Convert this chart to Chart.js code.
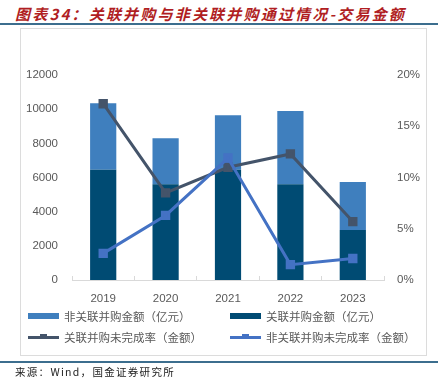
<!DOCTYPE html>
<html>
<head>
<meta charset="utf-8">
<script src="https://cdn.jsdelivr.net/npm/chart.js@4.4.1/dist/chart.umd.min.js"></script>
<style>
    body { margin: 0; width: 438px; height: 385px; background: #fff; position: relative; overflow: hidden; font-family: "Noto Sans CJK SC", sans-serif; }
    .title { position: absolute; left: 15px; top: 3px; font-size: 15px; font-weight: bold; font-style: italic; color: #B01E23; white-space: nowrap; letter-spacing: 2.2px; }
    .rule { position: absolute; left: 0; width: 438px; height: 2px; background: #3C6E8E; }
    .frame { position: absolute; left: 20px; top: 28px; width: 405px; height: 326px; border: 1px solid #DCDCDC; }
    .chart-box { position: absolute; left: 20px; top: 29px; width: 406px; height: 280px; }
    .legend-item { position: absolute; font-size: 11.5px; color: #595959; white-space: nowrap; line-height: 14px; }
    .swatch { position: absolute; width: 31px; height: 6px; }
    .line-swatch { position: absolute; width: 31px; height: 3px; }
    .line-swatch i { position: absolute; left: 12px; top: -2px; width: 7px; height: 5px; }
    .source { position: absolute; left: 15px; top: 364px; font-size: 10.5px; color: #222; white-space: nowrap; letter-spacing: 1.3px; }
</style>
</head>
<body>
<div class="title">图表34：关联并购与非关联并购通过情况-交易金额</div>
<div class="rule" style="top: 23px;"></div>
<div class="frame"></div>
<div class="chart-box"><canvas id="mainChart"></canvas></div>
<div id="legend"></div>
<div class="rule" style="top: 361px;"></div>
<div class="source">来源：Wind，国金证券研究所</div>

<script>
// Data
const years = ['2019', '2020', '2021', '2022', '2023'];
const relatedAmount = [6450, 5600, 6450, 5600, 2930];      // 关联并购金额（亿元）
const unrelatedAmount = [3900, 2700, 3200, 4300, 2800];    // 非关联并购金额（亿元）
const relatedRate = [17.2, 8.5, 11.0, 12.3, 5.7];          // 关联并购未完成率（金额）%
const unrelatedRate = [2.6, 6.3, 11.9, 1.5, 2.1];          // 非关联并购未完成率（金额）%
const leftTicks = [0, 2000, 4000, 6000, 8000, 10000, 12000];
const rightTicks = [0, 5, 10, 15, 20];

const colors = {
    unrelatedBar: '#3F7FBE',
    relatedBar: '#004B73',
    relatedLine: '#44546A',
    unrelatedLine: '#4472C4'
};

const tickFont = { family: 'Liberation Sans', size: 11.5 };

const mainChart = new Chart(document.getElementById('mainChart'), {
    type: 'bar',
    data: {
        labels: years,
        datasets: [
            {
                type: 'line',
                label: '非关联并购未完成率（金额）',
                data: unrelatedRate,
                yAxisID: 'y2',
                borderColor: colors.unrelatedLine,
                backgroundColor: colors.unrelatedLine,
                borderWidth: 3,
                pointStyle: 'rect',
                pointRadius: 4.5,
                pointHoverRadius: 4.5,
                tension: 0,
                order: 0
            },
            {
                type: 'line',
                label: '关联并购未完成率（金额）',
                data: relatedRate,
                yAxisID: 'y2',
                borderColor: colors.relatedLine,
                backgroundColor: colors.relatedLine,
                borderWidth: 3,
                pointStyle: 'rect',
                pointRadius: 4.5,
                pointHoverRadius: 4.5,
                tension: 0,
                order: 0
            },
            {
                label: '关联并购金额（亿元）',
                data: relatedAmount,
                backgroundColor: colors.relatedBar,
                yAxisID: 'y',
                stack: 'amount',
                barPercentage: 0.42,
                categoryPercentage: 1,
                order: 1
            },
            {
                label: '非关联并购金额（亿元）',
                data: unrelatedAmount,
                backgroundColor: colors.unrelatedBar,
                yAxisID: 'y',
                stack: 'amount',
                barPercentage: 0.42,
                categoryPercentage: 1,
                order: 1
            }
        ]
    },
    options: {
        responsive: true,
        maintainAspectRatio: false,
        animation: false,
        layout: { padding: { top: 46, bottom: 0, left: 0, right: 0 } },
        plugins: {
            legend: { display: false },
            tooltip: { enabled: false }
        },
        scales: {
            x: {
                stacked: true,
                offset: true,
                grid: {
                    offset: true,
                    drawOnChartArea: false,
                    drawTicks: true,
                    tickLength: -4,
                    color: '#D9D9D9'
                },
                border: { display: true, color: '#D9D9D9', width: 1 },
                ticks: { color: '#595959', font: tickFont, padding: 16 },
                afterFit: scale => { scale.height = 29; }
            },
            y: {
                stacked: true,
                position: 'left',
                min: leftTicks[0],
                max: leftTicks[leftTicks.length - 1],
                grid: { display: false, drawTicks: false },
                border: { display: false },
                ticks: {
                    stepSize: leftTicks[1] - leftTicks[0],
                    color: '#595959',
                    font: tickFont,
                    padding: 14,
                    callback: v => String(v)
                },
                afterFit: scale => { scale.width = 52; }
            },
            y2: {
                position: 'right',
                min: rightTicks[0],
                max: rightTicks[rightTicks.length - 1],
                grid: { display: false, drawTicks: false },
                border: { display: false },
                ticks: {
                    stepSize: rightTicks[1] - rightTicks[0],
                    color: '#595959',
                    font: tickFont,
                    padding: 13,
                    callback: v => v + '%'
                },
                afterFit: scale => { scale.width = 42; }
            }
        }
    }
});

// Legend (2 x 2, same layout as the report)
const legendItems = [
    { text: '非关联并购金额（亿元）', kind: 'bar', color: colors.unrelatedBar, x: 28, y: 309 },
    { text: '关联并购金额（亿元）', kind: 'bar', color: colors.relatedBar, x: 230, y: 309 },
    { text: '关联并购未完成率（金额）', kind: 'line', color: colors.relatedLine, x: 28, y: 330 },
    { text: '非关联并购未完成率（金额）', kind: 'line', color: colors.unrelatedLine, x: 230, y: 330 }
];

const legendEl = document.getElementById('legend');
legendEl.innerHTML = legendItems.map(item => `
    <div class="legend-item" style="left: ${item.x}px; top: ${item.y}px;">
        ${item.kind === 'bar'
            ? `<span class="swatch" style="left: 0; top: 4px; background: ${item.color};"></span>`
            : `<span class="line-swatch" style="left: 0; top: 6px; background: ${item.color};"><i style="background: ${item.color};"></i></span>`}
        <span style="position: absolute; left: 36px; top: 0;">${item.text}</span>
    </div>
`).join('');
</script>
</body>
</html>
